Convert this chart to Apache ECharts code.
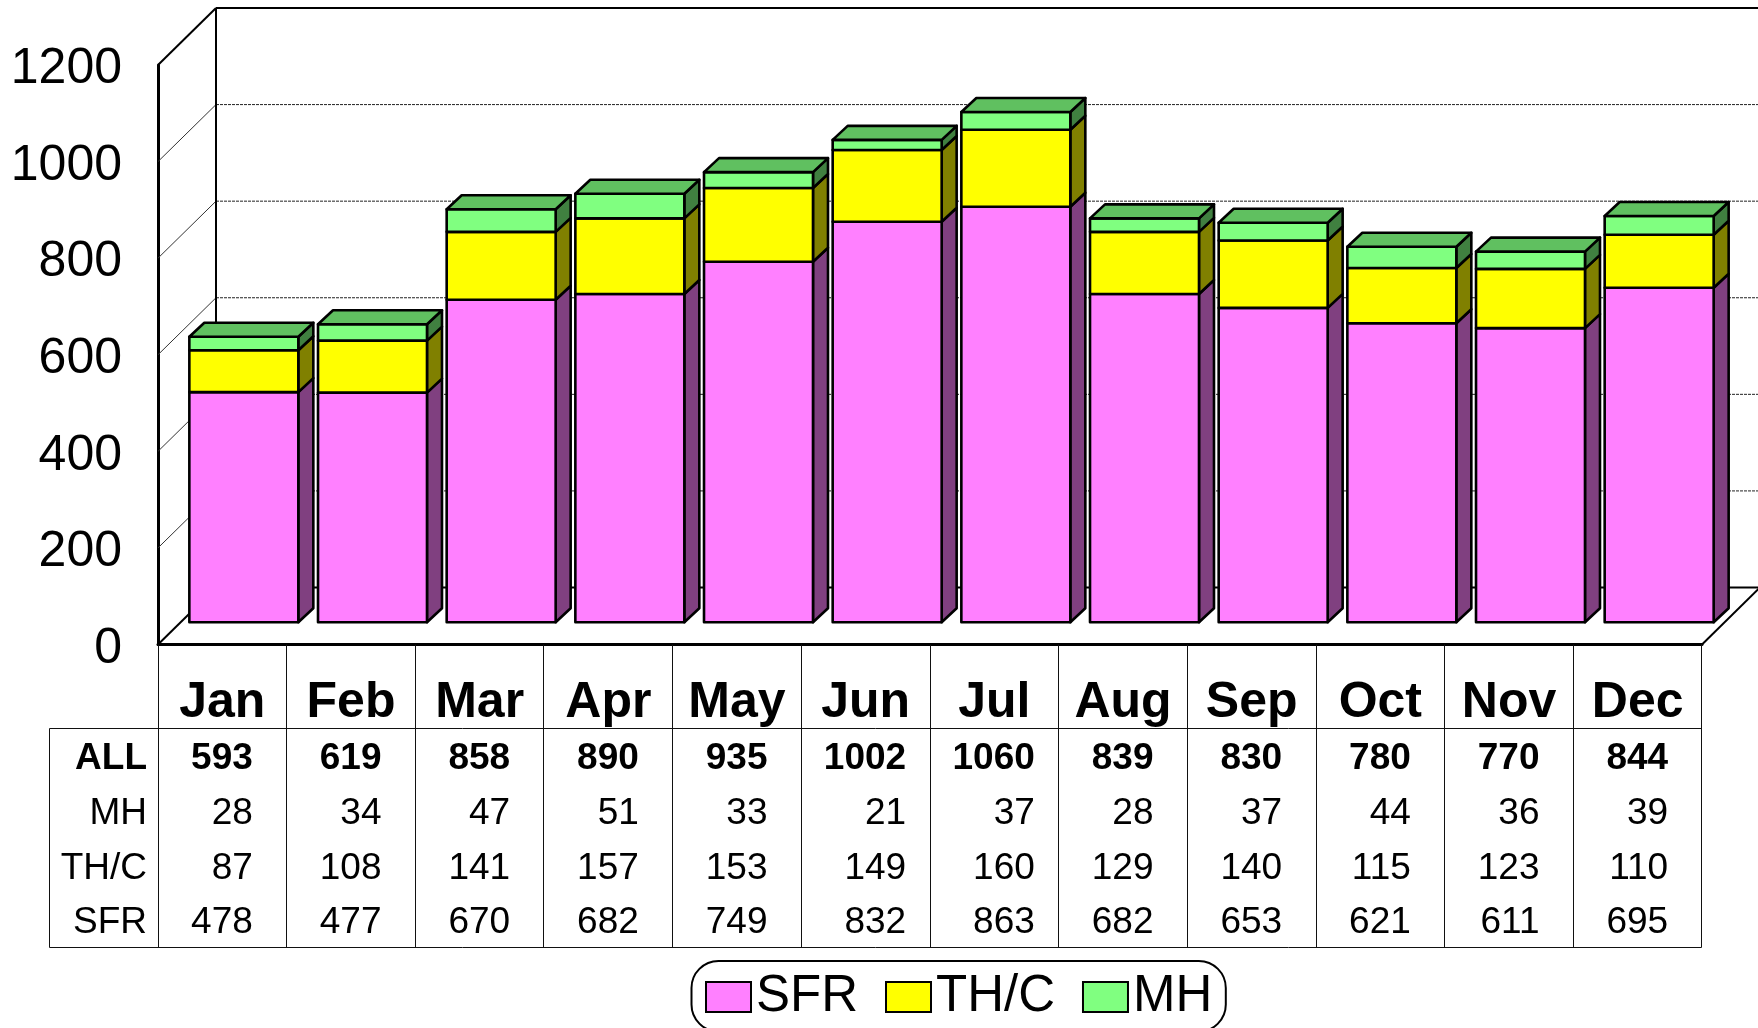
<!DOCTYPE html>
<html lang="en">
<head>
    <meta charset="UTF-8">
    <title>Monthly totals by type</title>
    <script src="https://cdn.jsdelivr.net/npm/echarts@6/dist/echarts.min.js"></script>
    <style>
        html, body { margin: 0; padding: 0; background: #fff; overflow: hidden; }
    </style>
</head>
<body>
<div id="main" style="width: 1758px;height:1028px;"></div>
<script>
    const months = ['Jan', 'Feb', 'Mar', 'Apr', 'May', 'Jun', 'Jul', 'Aug', 'Sep', 'Oct', 'Nov', 'Dec'];
    const sfr = [478, 477, 670, 682, 749, 832, 863, 682, 653, 621, 611, 695];
    const thc = [87, 108, 141, 157, 153, 149, 160, 129, 140, 115, 123, 110];
    const mh = [28, 34, 47, 51, 33, 21, 37, 28, 37, 44, 36, 39];
    const all = [593, 619, 858, 890, 935, 1002, 1060, 839, 830, 780, 770, 844];
    const yTicks = [0, 200, 400, 600, 800, 1000, 1200];
    const tableRows = [['ALL', all], ['MH', mh], ['TH/C', thc], ['SFR', sfr]];
    const seriesNames = ['SFR', 'TH/C', 'MH'];
    const seriesColors = ['#FF80FF', '#FFFF00', '#80FF80'];

    const font = 'Liberation Sans';
    // the wall sits this far behind the front of the floor
    const wallDx = 58, wallDy = 57;
    // the bars stand a bit behind the front edge and have a small depth of their own
    const barDx = 21.5, barDy = 22.3, depthX = 15, depthY = 14, barShrink = 0.9967;
    const tableTop = 728.5, tableBottom = 947.5, tableLeft = 49.5;
    const rowCenter = [758.5, 814, 869, 923];

    let chart = echarts.init(document.getElementById('main'));

    function renderWall(params, api) {
        let v = api.value(0);
        let y = api.coord([0, v])[1];
        let x0 = params.coordSys.x;
        let x1 = x0 + params.coordSys.width;
        let edge = v === 0 || v === 1200;
        let children = [
            {
                type: 'polyline',
                shape: { points: [[x0, y], [x0 + wallDx, y - wallDy]] },
                style: { stroke: edge ? '#000' : '#333', lineWidth: edge ? 2 : 1, fill: null }
            },
            {
                type: 'polyline',
                shape: { points: [[x0 + wallDx, y - wallDy], [x1 + wallDx, y - wallDy]] },
                style: {
                    stroke: edge ? '#000' : '#222',
                    lineWidth: edge ? 2 : 1,
                    lineDash: edge ? null : [3, 1],
                    fill: null
                }
            },
            {
                // tick label, it sits a little under its tick in the picture
                type: 'text',
                style: {
                    x: x0 - 36,
                    y: y + 4.5,
                    text: String(v),
                    align: 'right',
                    verticalAlign: 'middle',
                    fill: '#000',
                    font: '50px "' + font + '"'
                }
            }
        ];
        if (v === 1200) {
            let bottom = api.coord([0, 0])[1] - wallDy;
            children.push({
                type: 'polyline',
                shape: { points: [[x0 + wallDx, y - wallDy], [x0 + wallDx, bottom]] },
                style: { stroke: '#000', lineWidth: 2, fill: null }
            });
        }
        if (v === 0) {
            children.push({
                type: 'polyline',
                shape: { points: [[x1, y], [x1 + wallDx, y - wallDy]] },
                style: { stroke: '#000', lineWidth: 2, fill: null }
            });
        }
        return { type: 'group', children: children };
    }

    function makeBar(front, side, top) {
        return function (params, api) {
            let i = api.value(0);
            let low = api.coord([i, api.value(1)]);
            let high = api.coord([i, api.value(2)]);
            let zero = api.coord([i, 0])[1];
            let w = api.size([1, 0])[0] * 0.847;
            let l = low[0] + barDx - w / 2;
            let r = l + w;
            let yb = zero - barDy - (zero - low[1]) * barShrink;
            let yt = zero - barDy - (zero - high[1]) * barShrink;
            let border = { stroke: '#000', lineWidth: 2.6, lineJoin: 'round' };
            let children = [
                {
                    type: 'polygon',
                    shape: { points: [[r, yb], [r + depthX, yb - depthY], [r + depthX, yt - depthY], [r, yt]] },
                    style: Object.assign({ fill: side }, border)
                },
                {
                    type: 'rect',
                    shape: { x: l, y: yt, width: w, height: yb - yt },
                    style: Object.assign({ fill: front }, border)
                }
            ];
            if (top) {
                children.push({
                    type: 'polygon',
                    shape: { points: [[l, yt], [l + depthX, yt - depthY], [r + depthX, yt - depthY], [r, yt]] },
                    style: Object.assign({ fill: top }, border)
                });
            }
            return { type: 'group', children: children };
        };
    }

    function renderColumnLine(params, api) {
        // one vertical rule per month, drawn on the left edge of its band
        let i = api.value(0);
        let half = api.size([1, 0])[0] / 2;
        let x = Math.floor(api.coord([i, 0])[0] - half) + 0.5;
        let y = api.coord([i, 0])[1];
        let rule = { stroke: '#111', lineWidth: 1 };
        let children = [{
            type: 'line',
            shape: { x1: x, y1: y, x2: x, y2: tableBottom },
            style: rule
        }];
        if (i === months.length - 1) {
            let xEnd = Math.floor(api.coord([i, 0])[0] + half) - 0.5;
            children.push({
                type: 'line',
                shape: { x1: xEnd, y1: y, x2: xEnd, y2: tableBottom },
                style: rule
            });
            children.push({
                type: 'line',
                shape: { x1: tableLeft, y1: tableTop, x2: xEnd, y2: tableTop },
                style: rule
            });
            children.push({
                type: 'line',
                shape: { x1: tableLeft, y1: tableBottom, x2: xEnd, y2: tableBottom },
                style: rule
            });
            children.push({
                type: 'line',
                shape: { x1: tableLeft, y1: tableTop, x2: tableLeft, y2: tableBottom },
                style: rule
            });
        }
        return { type: 'group', children: children };
    }

    function renderCell(params, api) {
        let col = api.value(0);
        let row = api.value(1);
        let text = tableRows[row][1][col];
        // columns are right aligned around the widest number, that is the ALL row
        let right = api.coord([col, 0])[0] + String(all[col]).length * 10;
        return {
            type: 'text',
            style: {
                x: right + 0.5,
                y: rowCenter[row],
                text: String(text),
                align: 'right',
                verticalAlign: 'middle',
                fill: '#000',
                font: (row === 0 ? 'bold ' : '') + '37px "' + font + '"'
            }
        };
    }

    function renderRowName(params, api) {
        let row = api.value(0);
        return {
            type: 'text',
            style: {
                x: 147,
                y: rowCenter[row],
                text: tableRows[row][0],
                align: 'right',
                verticalAlign: 'middle',
                fill: '#000',
                font: (row === 0 ? 'bold ' : '') + '37px "' + font + '"'
            }
        };
    }

    function stackData(lower, values) {
        return values.map(function (v, i) {
            let base = 0;
            lower.forEach(function (arr) { base += arr[i]; });
            return [i, base, base + v];
        });
    }

    let cells = [];
    tableRows.forEach(function (row, r) {
        months.forEach(function (m, c) { cells.push([c, r]); });
    });

    let option = {
        animation: false,
        backgroundColor: '#fff',
        tooltip: { show: false },
        grid: { left: 158, right: 56, top: 65, bottom: 383.5, outerBoundsMode: 'none' },
        legend: {
            left: 691.5,
            top: 961,
            data: seriesNames,
            orient: 'horizontal',
            icon: 'rect',
            itemWidth: 45,
            itemHeight: 30,
            itemGap: 27,
            padding: [10.5, 13.5, 9, 13.5],
            borderColor: '#000',
            borderWidth: 2,
            borderRadius: 27,
            selectedMode: false,
            itemStyle: { borderColor: '#000', borderWidth: 2 },
            textStyle: {
                color: '#000',
                fontSize: 51,
                fontFamily: font,
                padding: [5, 0, 0, 0]
            }
        },
        xAxis: {
            type: 'category',
            data: months,
            axisLine: { show: true, lineStyle: { color: '#000', width: 3 } },
            axisTick: { show: false },
            axisLabel: {
                color: '#000',
                fontFamily: font,
                fontSize: 50,
                fontWeight: 'bold',
                margin: 34,
                interval: 0
            }
        },
        yAxis: {
            type: 'value',
            min: 0,
            max: 1200,
            interval: 200,
            axisLine: { show: true, lineStyle: { color: '#000', width: 3 } },
            axisTick: { show: false },
            splitLine: { show: false },
            axisLabel: { show: false }
        },
        series: [
            {
                type: 'custom',
                z: 1,
                silent: true,
                renderItem: renderWall,
                encode: { y: 0 },
                data: yTicks.map(function (v) { return [v]; })
            },
            {
                type: 'custom',
                name: seriesNames[0],
                z: 2,
                itemStyle: { color: seriesColors[0] },
                renderItem: makeBar(seriesColors[0], '#804080'),
                encode: { x: 0, y: 2 },
                data: stackData([], sfr)
            },
            {
                type: 'custom',
                name: seriesNames[1],
                z: 3,
                itemStyle: { color: seriesColors[1] },
                renderItem: makeBar(seriesColors[1], '#808000'),
                encode: { x: 0, y: 2 },
                data: stackData([sfr], thc)
            },
            {
                type: 'custom',
                name: seriesNames[2],
                z: 4,
                itemStyle: { color: seriesColors[2] },
                renderItem: makeBar(seriesColors[2], '#408040', '#60C060'),
                encode: { x: 0, y: 2 },
                data: stackData([sfr, thc], mh)
            },
            {
                type: 'custom',
                z: 1,
                silent: true,
                renderItem: renderColumnLine,
                encode: { x: 0 },
                data: months.map(function (m, i) { return [i]; })
            },
            {
                type: 'custom',
                z: 5,
                silent: true,
                renderItem: renderCell,
                encode: { x: 0 },
                data: cells
            },
            {
                type: 'custom',
                z: 5,
                silent: true,
                renderItem: renderRowName,
                data: tableRows.map(function (r, i) { return [i]; })
            }
        ]
    };
    chart.setOption(option);
</script>
</body>
</html>
